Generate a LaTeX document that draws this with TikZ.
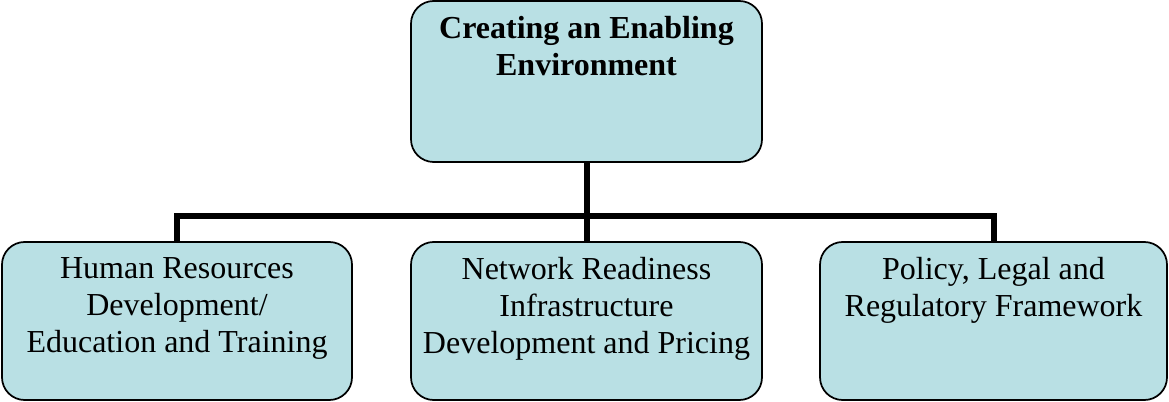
\documentclass[tikz,border=0pt]{standalone}
\usepackage{fontspec}
\setmainfont{Liberation Serif}
\definecolor{boxfill}{RGB}{185,224,228}
\tikzset{every picture/.style={line width=0.75pt}}
\tikzset{
	unitbox/.style={draw=black, line width=1.3pt, fill=boxfill, rounded corners=17pt, minimum width=262.5pt, minimum height=118.5pt, inner sep=0pt},
	boxtext/.style={anchor=north, inner sep=0pt, align=center, font=\fontsize{24}{27.6}\selectfont},
	headtext/.style={boxtext, font=\fontsize{24}{27.6}\selectfont\bfseries},
	link/.style={line width=4.5pt}
}
\begin{document}
\begin{tikzpicture}[x=0.75pt,y=0.75pt,yscale=-1,xscale=1]
	\useasboundingbox (0,0) rectangle (1169,402);
	% boxes
	\node [unitbox, minimum width=263.25pt, minimum height=120.75pt] (top) at (586.5,81.5) {};
	\node [unitbox] (hr) at (177,321) {};
	\node [unitbox, minimum width=263.25pt] (net) at (586.5,321) {};
	\node [unitbox, minimum width=260.25pt] (pol) at (993.5,321) {};
	
	\node [headtext] (toptxt) at ([yshift=12pt]top.north) {Creating an Enabling\\Environment};
	\node [boxtext] (hrtxt) at ([yshift=12pt]hr.north) {Human Resources\\Development/\\Education and Training};
	\node [boxtext] (nettxt) at ([yshift=12pt]net.north) {Network Readiness\\Infrastructure\\Development and Pricing};
	\node [boxtext] (poltxt) at ([yshift=12pt]pol.north) {Policy, Legal and\\Regulatory Framework};
	
	% connectors
	\coordinate (bus) at (586.5,216);
	\draw [link] (top.south) -- (bus);
	\draw [link] (hr.north) |- (bus) -| (pol.north);
	\draw [link] (bus) -- (net.north);
\end{tikzpicture}
\end{document}
